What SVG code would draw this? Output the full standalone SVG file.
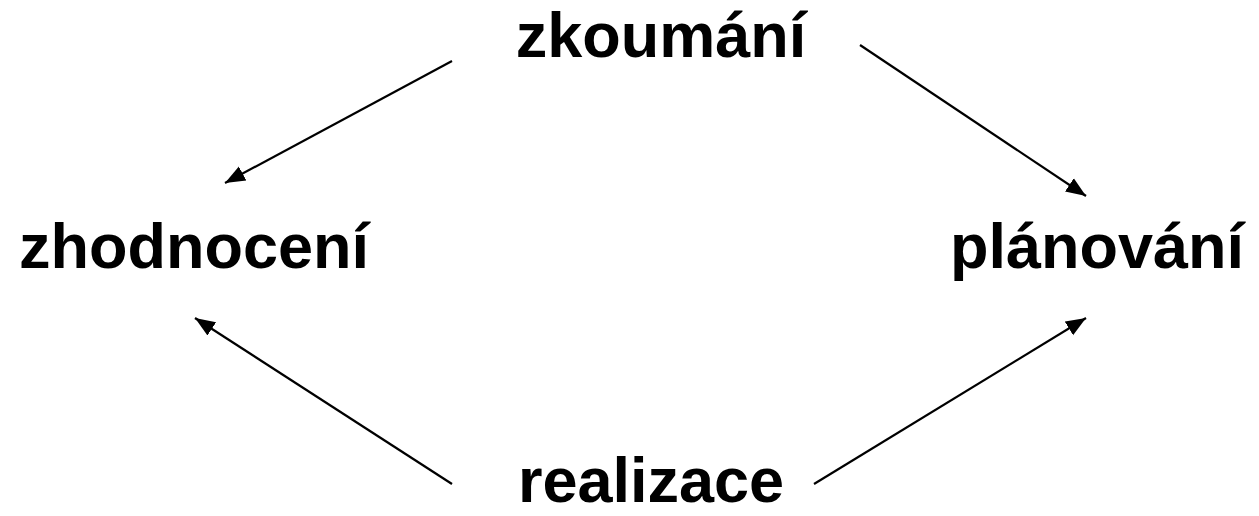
<svg xmlns="http://www.w3.org/2000/svg" width="1259" height="516" viewBox="0 0 1259 516">
<defs>
<style>
.lbl{font-family:"Liberation Sans",Arial,sans-serif;font-weight:bold;font-size:63px;fill:#000;text-anchor:middle}
.edge{stroke:#000;stroke-width:2.2;fill:none;marker-end:url(#ah)}
</style>
<marker id="ah" markerUnits="userSpaceOnUse" markerWidth="22" markerHeight="18" viewBox="0 0 22 18" refX="20" refY="9" orient="auto">
<path d="M0,1 L20,9 L0,17 Z" fill="#000"/>
</marker>
</defs>
<rect width="1259" height="516" fill="#fff"/>
<g id="connectors">
<line class="edge" x1="452" y1="61" x2="225" y2="183"/>
<line class="edge" x1="860" y1="45" x2="1086" y2="196"/>
<line class="edge" x1="452" y1="484" x2="195" y2="318"/>
<line class="edge" x1="814" y1="484" x2="1086" y2="318"/>
</g>
<g id="zkoumani"><text class="lbl" x="661" y="57">zkoumání</text></g>
<g id="zhodnoceni"><text class="lbl" x="194" y="268">zhodnocení</text></g>
<g id="planovani"><text class="lbl" x="1097" y="268">plánování</text></g>
<g id="realizace"><text class="lbl" x="651" y="502">realizace</text></g>
</svg>
